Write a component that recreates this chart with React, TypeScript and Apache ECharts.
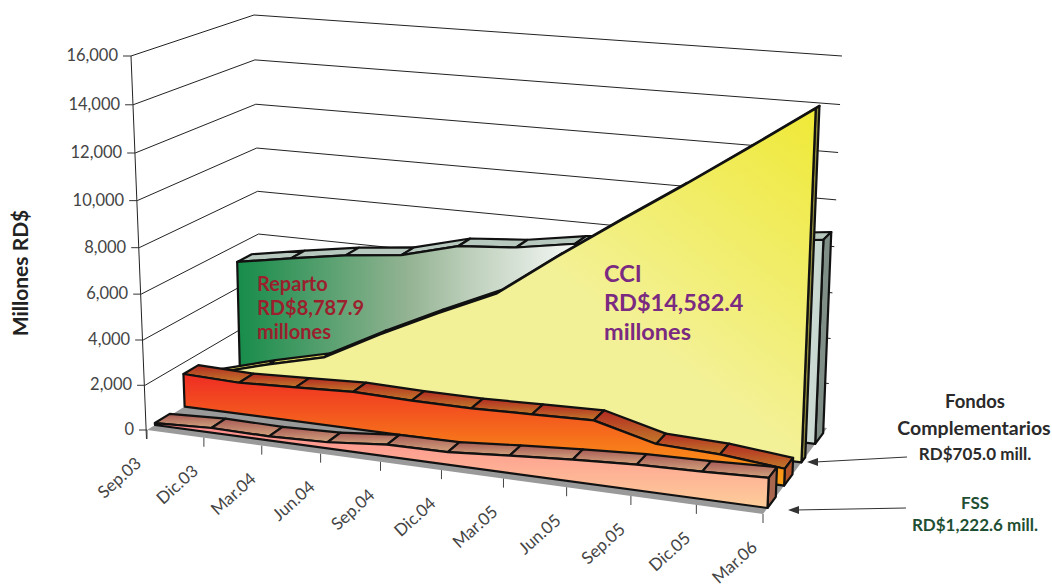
import React, { useEffect, useRef } from "react";
import * as echarts from "echarts";

const categories = ["Sep.03","Dic.03","Mar.04","Jun.04","Sep.04","Dic.04","Mar.05","Jun.05","Sep.05","Dic.05","Mar.06"];
const reparto = [5220,5650,6050,6320,6980,7180,7600,7850,8120,8480,8787.9];
const cci = [680,1400,2030,3370,4600,5750,7600,9350,11050,12800,14582.4];
const fondos = [1500,1420,1530,1650,1590,1580,1650,1720,1050,960,705];
const fss = [90,210,180,270,510,540,740,920,1060,1120,1222.6];
const yTicks = [0,2000,4000,6000,8000,10000,12000,14000,16000];

const L = 140, W = 620, T = 56, H = 374;
type Pt = [number, number];
const floorQ: Pt[] = [[147,430],[763,514],[827,428],[261,359]];
const topQ: Pt[] = [[131,56],[780,97],[842,56],[254,15]];
const bilinear=(q:Pt[],u:number,d:number):Pt=>{
  const fx=q[0][0]+(q[1][0]-q[0][0])*u, fy=q[0][1]+(q[1][1]-q[0][1])*u;
  const bx=q[3][0]+(q[2][0]-q[3][0])*u, by=q[3][1]+(q[2][1]-q[3][1])*u;
  return [fx+(bx-fx)*d,fy+(by-fy)*d];
};
function proj(u:number,d:number,t:number):Pt{
  const f=u/(u+(1-u)*1.092);
  const a=bilinear(floorQ,f,d), b=bilinear(topQ,f,d);
  const tt=t-0.05*t*(1-t);
  return [a[0]+(b[0]-a[0])*tt,a[1]+(b[1]-a[1])*tt];
}
function P(api:any,i:number,v:number,d:number):Pt{
  const c=api.coord([i,v]);
  return proj((c[0]-L)/W,d,(T+H-c[1])/H);
}
const lg=(x0:number,y0:number,x1:number,y1:number,stops:[number,string][])=>
  new echarts.graphic.LinearGradient(x0,y0,x1,y1,stops.map(([offset,color])=>({offset,color})),true);
const black={stroke:"#111",lineWidth:2.2,lineJoin:"round"};

function areaSeries(values:number[],d0:number,d1:number,front:any,strip:(top:number,bottom:number)=>any,side:any){
  return {
    type:"custom",coordinateSystem:"cartesian2d",encode:{x:0,y:1},silent:true,
    data:values.map((v,i)=>[i,v]),
    renderItem:(params:any,api:any)=>{
      const i=api.value(0), n=values.length, children:any[]=[];
      if(i<n-1){
        const a=P(api,i,values[i],d0),b=P(api,i+1,values[i+1],d0),c=P(api,i+1,values[i+1],d1),e=P(api,i,values[i],d1);
        const ys=[a[1],b[1],c[1],e[1]];
        children.push({type:"polygon",shape:{points:[a,b,c,e]},
          style:{fill:strip(Math.min(...ys),Math.max(...ys)),...black}});
      } else {
        children.push({type:"polygon",shape:{points:[P(api,i,0,d0),P(api,i,0,d1),P(api,i,values[i],d1),P(api,i,values[i],d0)]},style:{fill:side,...black}});
        const pts:Pt[]=[P(api,0,0,d0)];
        values.forEach((v,k)=>pts.push(P(api,k,v,d0)));
        pts.push(P(api,n-1,0,d0));
        children.push({type:"polygon",shape:{points:pts},style:{fill:front,...black}});
      }
      return {type:"group",children};
    }
  };
}
const flat=(c:string)=>()=>c;

export default function App(){
  const ref=useRef<HTMLDivElement>(null);
  useEffect(()=>{
    const chart=echarts.init(ref.current!,undefined,{renderer:"svg"});
    const font="Lato";
    const wallSeries={
      type:"custom",coordinateSystem:"cartesian2d",encode:{x:0,y:1},silent:true,
      data:yTicks.map(v=>[0,v]),
      renderItem:(p:any,api:any)=>{
        const v=api.value(1);
        const a=P(api,0,v,0),b=P(api,0,v,1),c=P(api,categories.length-1,v,1);
        const line={stroke:"#222",lineWidth:1,fill:"none"};
        const ch:any[]=[
          {type:"line",shape:{x1:a[0]-8,y1:a[1],x2:a[0],y2:a[1]},style:{stroke:"#333",lineWidth:1}},
          {type:"text",x:a[0]-13,y:a[1]-1,style:{text:v.toLocaleString("en-US"),align:"right",verticalAlign:"middle",fontFamily:font,fontSize:16.5,fill:"#444"}}
        ];
        if(v>0) ch.push({type:"polyline",shape:{points:[a,b,c]},style:line});
        else {
          const top=P(api,0,yTicks[yTicks.length-1],0);
          ch.push({type:"line",shape:{x1:top[0],y1:top[1],x2:a[0]-0.5,y2:a[1]+9},style:{stroke:"#222",lineWidth:1}});
          const n=categories.length-1;
          ch.push({type:"polygon",shape:{points:[a,P(api,n,0,0),P(api,n,0,1),b]},style:{fill:"#9a9a9a"}});
        }
        return {type:"group",children:ch};
      }
    };
    const catSeries={
      type:"custom",coordinateSystem:"cartesian2d",encode:{x:0,y:1},silent:true,
      data:categories.map((c,i)=>[i,0]),
      renderItem:(p:any,api:any)=>{
        const i=api.value(0), a=P(api,i,0,0);
        return {type:"group",children:[
          {type:"line",shape:{x1:a[0],y1:a[1],x2:a[0],y2:a[1]+9},style:{stroke:"#444",lineWidth:1}},
          {type:"text",x:a[0]-9,y:a[1]+30,rotation:42*Math.PI/180,
           style:{text:categories[i],align:"right",verticalAlign:"middle",fontFamily:font,fontSize:17,fill:"#444"}}
        ]};
      }
    };
    const txt=(text:string,x:number,y:number,size:number,fill:string,align="left")=>({
      type:"text",x,y,z:100,style:{text,fontFamily:font,fontSize:size,fontWeight:"bold",fill,align,verticalAlign:"middle"}
    });
    chart.setOption({
      animation:false,
      backgroundColor:"#fff",
      grid:{left:L,top:T,width:W,height:H},
      xAxis:{type:"category",data:categories,boundaryGap:false,show:false},
      yAxis:{type:"value",min:0,max:16000,interval:2000,show:false},
      series:[
        wallSeries,
        areaSeries(reparto,0.815,0.94,
          lg(238,0,822,0,[[0,"#178c4a"],[0.29,"#93b392"],[0.4,"#bed0bc"],[0.56,"#f0f4f0"],[0.9,"#e6eeea"],[1,"#c5d6ce"]]),
          flat("#b7c9bf"),"#7f8f88"),
        areaSeries(cci,0.6,0.66,
          lg(817,105,640,340,[[0,"#efe935"],[1,"#f3f198"]]),
          flat("#d8d25a"),"#8f8b3c"),
        areaSeries(fondos,0.33,0.46,
          lg(0,372,0,478,[[0,"#ee2a24"],[1,"#fb9c16"]]),
          (a:number,b:number)=>lg(0,a,0,b,[[0,"#b32a22"],[1,"#c27a2a"]]),"#b5562a"),
        areaSeries(fss,0.07,0.2,
          lg(0,425,0,505,[[0,"#ff8d8d"],[1,"#fdcb9a"]]),
          (a:number,b:number)=>lg(0,a,0,b,[[0,"#a85a55"],[1,"#d2a47e"]]),"#a8664e"),
        catSeries
      ],
      graphic:[
        {type:"text",x:19,y:273,rotation:Math.PI/2,z:100,style:{text:"Millones RD$",fontFamily:font,fontSize:21,fontWeight:"bold",fill:"#222",align:"center",verticalAlign:"middle"}},
        txt("Reparto",257,283,20,"#9c1f2e"),txt("RD$8,787.9",257,307,20,"#9c1f2e"),txt("millones",257,331,20,"#9c1f2e"),
        txt("CCI",604,273,23.5,"#7a2a80"),txt("RD$14,582.4",604,302,23.5,"#7a2a80"),txt("millones",604,331,23.5,"#7a2a80"),
        txt("Fondos",975,401,18.5,"#2a2a2a","center"),txt("Complementarios",974,427,19.5,"#2a2a2a","center"),txt("RD$705.0 mill.",975,453,17,"#2a2a2a","center"),
        txt("FSS",975,502,17,"#1f4f33","center"),txt("RD$1,222.6 mill.",975,524,17,"#1f4f33","center"),
        {type:"line",z:100,shape:{x1:907,y1:457,x2:815,y2:462},style:{stroke:"#333",lineWidth:1.2}},
        {type:"polygon",z:100,shape:{points:[[807,462],[818,458],[818,466]]},style:{fill:"#333"}},
        {type:"line",z:100,shape:{x1:906,y1:508,x2:795,y2:510},style:{stroke:"#333",lineWidth:1.2}},
        {type:"polygon",z:100,shape:{points:[[788,510],[799,506],[799,514]]},style:{fill:"#333"}}
      ]
    });
    return ()=>chart.dispose();
  },[]);
  return <div ref={ref} style={{position:"absolute",left:0,top:0,width:1052,height:586}}/>;
}
